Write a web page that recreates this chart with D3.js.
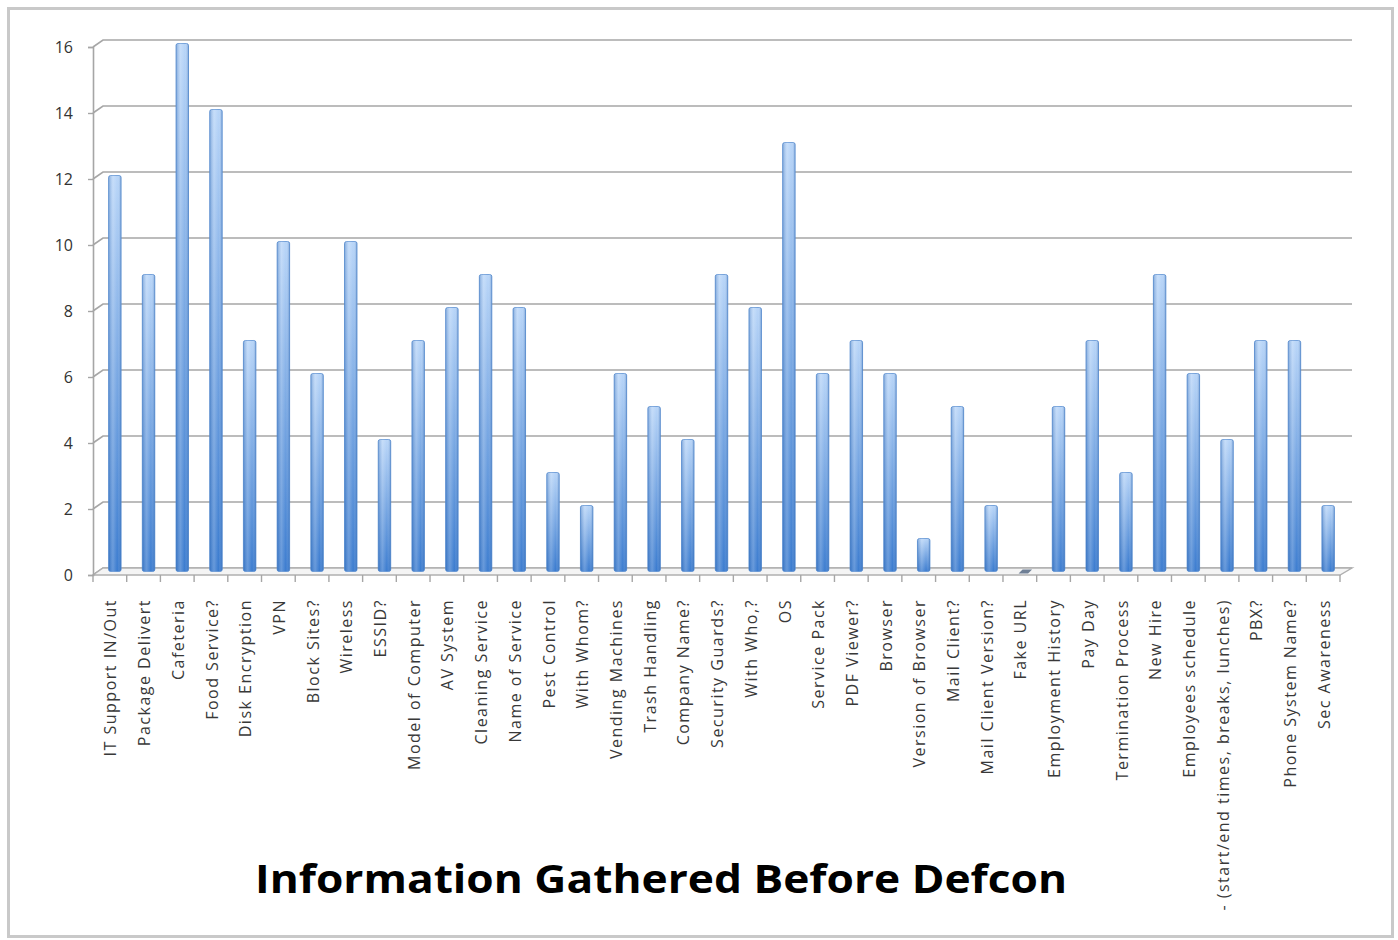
<!DOCTYPE html>
<html>
<head>
<meta charset="utf-8">
<script src="https://cdn.jsdelivr.net/npm/d3@7"></script>
<style>
  html, body { margin: 0; padding: 0; background: #fff; }
  svg { display: block; }
</style>
</head>
<body>
<svg id="chart" width="1398" height="940"></svg>
<script>
// Survey categories and how many times each was gathered
const categories = [
  "IT Support IN/Out", "Package Delivert", "Cafeteria", "Food Service?", "Disk Encryption",
  "VPN", "Block Sites?", "Wireless", "ESSID?", "Model of Computer", "AV System",
  "Cleaning Service", "Name of Service", "Pest Control", "With Whom?", "Vending Machines",
  "Trash Handling", "Company Name?", "Security Guards?", "With Who,?", "OS", "Service Pack",
  "PDF Viewer?", "Browser", "Version of Browser", "Mail Client?", "Mail Client Version?",
  "Fake URL", "Employment History", "Pay Day", "Termination Process", "New Hire",
  "Employees schedule", "- (start/end times, breaks, lunches)", "PBX?", "Phone System Name?",
  "Sec Awareness"
];
const counts = [
  12, 9, 16, 14, 7, 10, 6, 10, 4, 7, 8,
  9, 8, 3, 2, 6, 5, 4, 9, 8, 13, 6,
  7, 6, 1, 5, 2, 0, 5, 7, 3, 9,
  6, 4, 7, 7, 2
];
const yTicks = [0, 2, 4, 6, 8, 10, 12, 14, 16];
const chartTitle = "Information Gathered Before Defcon";

const svg = d3.select("#chart");

// 3D depth offset between the front plane and the back wall
const depth = { dx: 10, dy: -7 };
const left = 93, right = 1340, base = 575;

const x = d3.scaleBand().domain(categories).range([left, right]);
const y = d3.scaleLinear().domain([0, 16]).range([base, 47]);

// gradients
const defs = svg.append("defs");
const vg = defs.append("linearGradient").attr("id", "barV")
  .attr("x1", 0).attr("y1", 0).attr("x2", 0).attr("y2", 1);
vg.append("stop").attr("offset", "0%").attr("stop-color", "#b8d5f8");
vg.append("stop").attr("offset", "100%").attr("stop-color", "#3a7bcf");
const hg = defs.append("linearGradient").attr("id", "barH")
  .attr("x1", 0).attr("y1", 0).attr("x2", 1).attr("y2", 0);
hg.append("stop").attr("offset", "0%").attr("stop-color", "#1f5aa8").attr("stop-opacity", 0.35);
hg.append("stop").attr("offset", "35%").attr("stop-color", "#ffffff").attr("stop-opacity", 0.22);
hg.append("stop").attr("offset", "70%").attr("stop-color", "#ffffff").attr("stop-opacity", 0.0);
hg.append("stop").attr("offset", "100%").attr("stop-color", "#1f5aa8").attr("stop-opacity", 0.4);

// outer frame
svg.append("rect")
  .attr("x", 8.5).attr("y", 8.5).attr("width", 1384).attr("height", 928)
  .attr("fill", "#fff").attr("stroke", "#c9c9c9").attr("stroke-width", 3);

// back-wall gridlines with perspective joints to the value axis
const grid = svg.append("g").attr("stroke", "#a6a6a6").attr("stroke-width", 1.6).attr("fill", "none");
yTicks.forEach(v => {
  const yf = y(v), yb = y(v) + depth.dy;
  grid.append("path")
    .attr("d", `M${left},${yf}L${left + depth.dx},${yb}L${right + 12},${yb}`);
});

// floor
svg.append("path")
  .attr("d", `M${left},${base}L${right},${base}L${right + 12},${base + depth.dy}L${left + depth.dx},${base + depth.dy}Z`)
  .attr("fill", "#f4f4f4").attr("stroke", "#b0b0b0").attr("stroke-width", 1.4);

// value axis
const yAxis = svg.append("g").attr("transform", `translate(${left},0)`)
  .call(d3.axisLeft(y).tickValues(yTicks).tickSize(5).tickPadding(15));
yAxis.select(".domain").attr("stroke", "#a6a6a6").attr("stroke-width", 1.6);
yAxis.selectAll(".tick line").attr("stroke", "#a6a6a6").attr("stroke-width", 1.4);
yAxis.selectAll(".tick text")
  .attr("font-family", "'Open Sans', sans-serif").attr("font-size", 16).attr("fill", "#333");

// category axis ticks at band boundaries
const bounds = categories.map(c => x(c)).concat([right]);
svg.append("g").selectAll("line").data(bounds).join("line")
  .attr("x1", d => d).attr("x2", d => d)
  .attr("y1", base).attr("y2", base + 7)
  .attr("stroke", "#a6a6a6").attr("stroke-width", 1.4);

// columns, set half way into the depth
const bw = 12.5;
const bx = d => x(d.c) + x.bandwidth() / 2 + depth.dx / 2 - bw / 2;
const by0 = base + depth.dy / 2;
const data = categories.map((c, i) => ({ c, v: counts[i] }));
const bars = svg.append("g");
bars.selectAll("rect.col").data(data.filter(d => d.v > 0)).join("rect")
  .attr("class", "col")
  .attr("x", bx)
  .attr("y", d => y(d.v) + depth.dy / 2)
  .attr("width", bw)
  .attr("height", d => by0 - (y(d.v) + depth.dy / 2))
  .attr("rx", 2)
  .attr("fill", "url(#barV)")
  .attr("stroke", "#5b8fd2").attr("stroke-width", 0.8);
bars.selectAll("rect.shade").data(data.filter(d => d.v > 0)).join("rect")
  .attr("class", "shade")
  .attr("x", bx)
  .attr("y", d => y(d.v) + depth.dy / 2)
  .attr("width", bw)
  .attr("height", d => by0 - (y(d.v) + depth.dy / 2))
  .attr("rx", 2)
  .attr("fill", "url(#barH)");
// flat marker for zero-height columns
bars.selectAll("path.zero").data(data.filter(d => d.v === 0)).join("path")
  .attr("class", "zero")
  .attr("d", d => {
    const x0 = bx(d), yb = by0;
    return `M${x0},${yb + 2}L${x0 + bw - 3},${yb + 2}L${x0 + bw + 1},${yb - 2}L${x0 + 4},${yb - 2}Z`;
  })
  .attr("fill", "#6f7f95");

// rotated category labels
svg.append("g").selectAll("text").data(categories).join("text")
  .attr("transform", c => `translate(${x(c) + x.bandwidth() / 2 + 1},599) rotate(-90)`)
  .attr("text-anchor", "end")
  .attr("dy", "0.35em")
  .attr("font-family", "'Open Sans', sans-serif")
  .attr("font-size", 16)
  .attr("letter-spacing", 1.5)
  .attr("fill", "#383838")
  .text(c => c);

// chart title
svg.append("text")
  .attr("x", 661).attr("y", 893)
  .attr("text-anchor", "middle")
  .attr("font-family", "'Open Sans', sans-serif")
  .attr("font-weight", 700)
  .attr("font-size", 40)
  .attr("textLength", 812)
  .attr("lengthAdjust", "spacingAndGlyphs")
  .attr("fill", "#000")
  .text(chartTitle);
</script>
</body>
</html>
